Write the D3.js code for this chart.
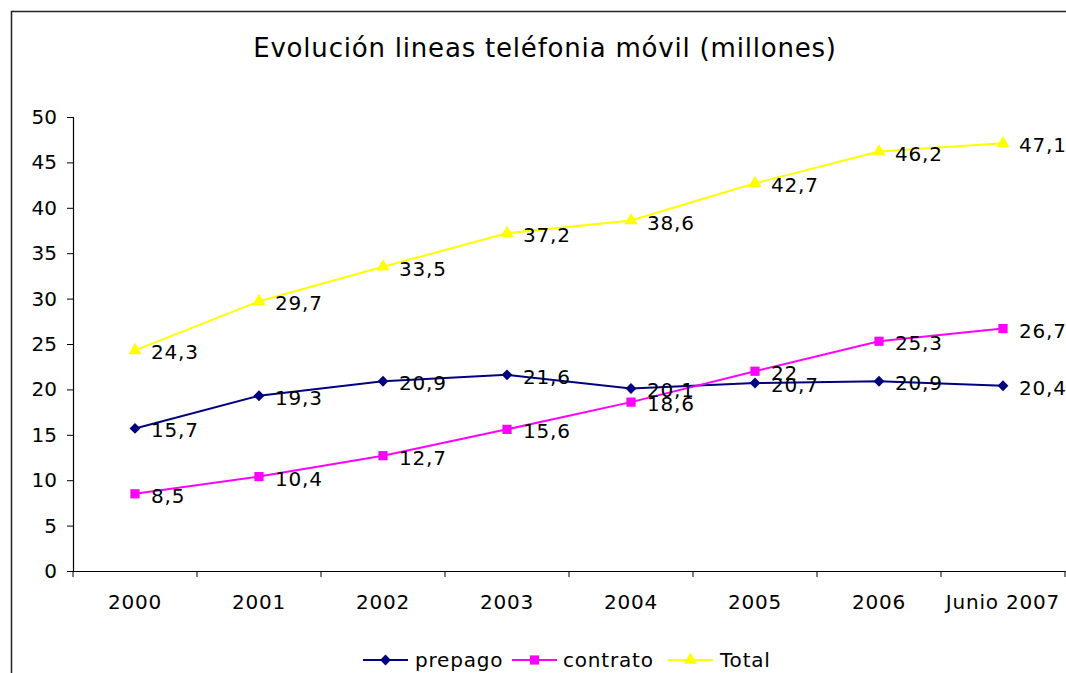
<!DOCTYPE html>
<html>
<head>
<meta charset="utf-8">
<script src="https://cdn.jsdelivr.net/npm/d3@7"></script>
<style>
  body { margin: 0; background: #fff; }
  text { font-family: "DejaVu Sans", Verdana, sans-serif; fill: #000; }
</style>
</head>
<body>
<div class="canvas"></div>
<script>
// data
const categories = ['2000', '2001', '2002', '2003', '2004', '2005', '2006', 'Junio 2007'];
const prepago = [15.7, 19.3, 20.9, 21.6, 20.1, 20.7, 20.9, 20.4];
const contrato = [8.5, 10.4, 12.7, 15.6, 18.6, 22, 25.3, 26.7];
const total = [24.3, 29.7, 33.5, 37.2, 38.6, 42.7, 46.2, 47.1];
const yTicks = [0, 5, 10, 15, 20, 25, 30, 35, 40, 45, 50];

const series = [
    {name: 'prepago', values: prepago, color: '#000080', symbol: d3.symbolDiamond2, size: 75},
    {name: 'contrato', values: contrato, color: '#ff00ff', symbol: d3.symbolSquare, size: 85},
    {name: 'Total', values: total, color: '#ffff00', symbol: d3.symbolTriangle, size: 75}
];

const width = 1066, height = 673;
const margin = {top: 117, right: 1, bottom: 102, left: 73};

const svg = d3.select('.canvas').append('svg')
    .attr('width', width)
    .attr('height', height);

// outer frame (cut off by the page on right and bottom)
svg.append('rect')
    .attr('x', 11.5).attr('y', 11.5)
    .attr('width', 1100).attr('height', 700)
    .attr('fill', 'none')
    .attr('stroke', '#222')
    .attr('stroke-width', 1.5);

svg.append('text')
    .attr('x', 545).attr('y', 57)
    .attr('text-anchor', 'middle')
    .style('font-size', '26px')
    .style('letter-spacing', '0.8px')
    .text('Evolución lineas teléfonia móvil (millones)');

// scales
const x = d3.scaleBand()
    .domain(categories)
    .range([margin.left, width - margin.right]);
const y = d3.scaleLinear()
    .domain([0, 50])
    .range([height - margin.bottom, margin.top]);

// y axis
const yAxis = svg.append('g')
    .attr('transform', `translate(${margin.left},0)`)
    .call(d3.axisLeft(y).tickValues(yTicks).tickSize(6).tickPadding(10));
yAxis.select('.domain').attr('stroke', '#000').attr('stroke-width', 1.2);
yAxis.selectAll('text').style('font-size', '20px');

// x axis
const xAxis = svg.append('g')
    .attr('transform', `translate(0,${y(0)})`)
    .call(d3.axisBottom(x).tickSize(0).tickPadding(24));
xAxis.select('.domain').attr('stroke', '#000').attr('stroke-width', 1.2);
xAxis.selectAll('text').style('font-size', '20px').style('letter-spacing', '0.8px');

// tick marks between categories
const bounds = categories.map(c => x(c)).concat([x(categories[categories.length - 1]) + x.bandwidth()]);
svg.append('g').selectAll('line')
    .data(bounds)
    .join('line')
    .attr('x1', d => d).attr('x2', d => d)
    .attr('y1', y(0)).attr('y2', y(0) + 6)
    .attr('stroke', '#000');

const cx = (d, i) => x(categories[i]) + x.bandwidth() / 2;

const line = d3.line()
    .x((d, i) => cx(d, i))
    .y(d => y(d));

series.forEach(s => {
    svg.append('path')
        .datum(s.values)
        .attr('fill', 'none')
        .attr('stroke', s.color)
        .attr('stroke-width', 2)
        .attr('d', line);

    svg.append('g').selectAll('path')
        .data(s.values)
        .join('path')
        .attr('transform', (d, i) => `translate(${cx(d, i)},${y(d)})`)
        .attr('d', d3.symbol(s.symbol, s.size))
        .attr('fill', s.color);
});

// data labels
series.forEach(s => {
    svg.append('g').selectAll('text')
        .data(s.values)
        .join('text')
        .attr('x', (d, i) => cx(d, i) + 16)
        .attr('y', d => y(d) + 9)
        .style('font-size', '20px')
        .style('letter-spacing', '0.8px')
        .text(d => String(d).replace('.', ','));
});

// legend
const legendItems = [
    {x: 363, textX: 415},
    {x: 512, textX: 563},
    {x: 668, textX: 720}
];
const legendY = 660;
const legend = svg.append('g');
series.forEach((s, i) => {
    const it = legendItems[i];
    legend.append('line')
        .attr('x1', it.x).attr('x2', it.x + 45)
        .attr('y1', legendY).attr('y2', legendY)
        .attr('stroke', s.color).attr('stroke-width', 2);
    legend.append('path')
        .attr('transform', `translate(${it.x + 22.5},${legendY})`)
        .attr('d', d3.symbol(s.symbol, s.size))
        .attr('fill', s.color);
    legend.append('text')
        .attr('x', it.textX).attr('y', legendY + 7)
        .style('font-size', '20px')
        .style('letter-spacing', '0.8px')
        .text(s.name);
});
</script>
</body>
</html>
